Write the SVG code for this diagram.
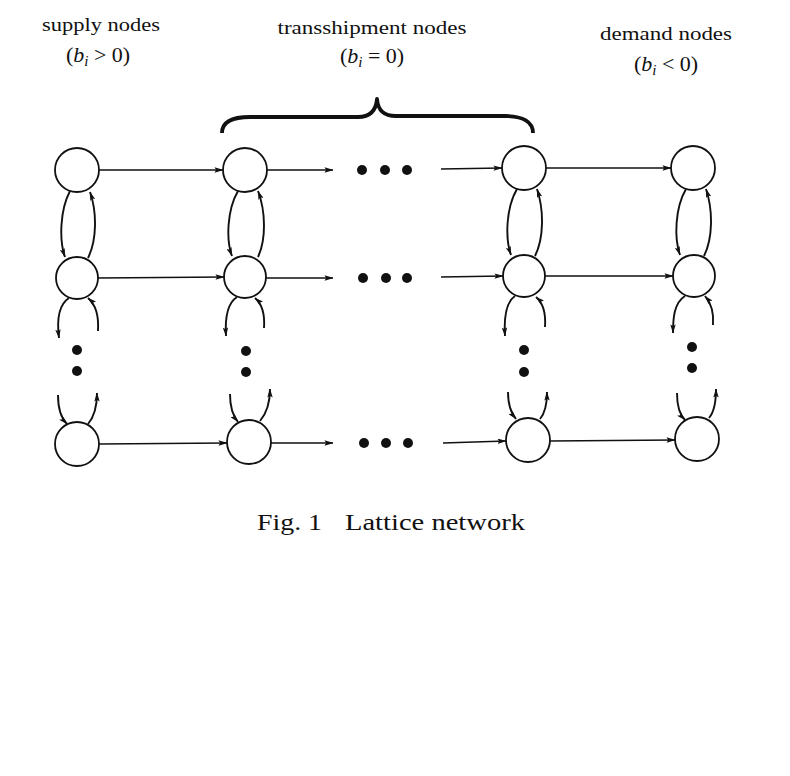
<svg xmlns="http://www.w3.org/2000/svg" width="790" height="776" viewBox="0 0 790 776">
<style>
.lbl{font-family:"Liberation Serif","DejaVu Serif",serif;font-size:19px;fill:#111}
.math{font-family:"Liberation Serif","DejaVu Serif",serif;font-size:22px;fill:#111}
.cap{font-family:"Liberation Serif","DejaVu Serif",serif;font-size:23px;fill:#111}
.it{font-style:italic}
.node circle{fill:#fff;stroke:#111;stroke-width:1.8}
.h{stroke:#111;stroke-width:1.3;fill:none;marker-end:url(#ah)}
.arc{stroke:#111;stroke-width:1.9;fill:none;marker-end:url(#ah)}
.dot{fill:#111}
</style>
<defs>
<marker id="ah" viewBox="0 0 10 6" refX="9.5" refY="3" markerWidth="9" markerHeight="5.4" markerUnits="userSpaceOnUse" orient="auto">
<path d="M0,0 L10,3 L0,6 L2,3 z" fill="#111"/>
</marker>
</defs>
<rect width="790" height="776" fill="#fff"/>

<g id="labels">
<text class="lbl" x="101" y="31" text-anchor="middle" textLength="118" lengthAdjust="spacingAndGlyphs">supply nodes</text>
<text class="math" x="98" y="62" text-anchor="middle">(<tspan class="it">b</tspan><tspan class="it" font-size="15" dy="4">i</tspan><tspan dy="-4">&#160;&gt;&#160;0)</tspan></text>
<text class="lbl" x="372" y="34" text-anchor="middle" textLength="189" lengthAdjust="spacingAndGlyphs">transshipment nodes</text>
<text class="math" x="372" y="63" text-anchor="middle">(<tspan class="it">b</tspan><tspan class="it" font-size="15" dy="4">i</tspan><tspan dy="-4">&#160;=&#160;0)</tspan></text>
<text class="lbl" x="666" y="40" text-anchor="middle" textLength="132" lengthAdjust="spacingAndGlyphs">demand nodes</text>
<text class="math" x="666" y="71" text-anchor="middle">(<tspan class="it">b</tspan><tspan class="it" font-size="15" dy="4">i</tspan><tspan dy="-4">&#160;&lt;&#160;0)</tspan></text>
<text class="cap" x="257" y="530" textLength="65" lengthAdjust="spacingAndGlyphs">Fig. 1</text>
<text class="cap" x="345" y="530" textLength="180" lengthAdjust="spacingAndGlyphs">Lattice network</text>
</g>

<g id="brace">
<path d="M222,133 C222,122 232,117 250,117 L358,117 C370,117 376,111 377,99 C378,111 384,116 396,116 L505,116 C523,116 533,122 533,133" fill="none" stroke="#111" stroke-width="3.8" stroke-linejoin="round"/>
</g>

<g id="nodes">
<g id="n11" class="node"><circle cx="77" cy="170" r="22"/></g>
<g id="n21" class="node"><circle cx="77" cy="278" r="21"/></g>
<g id="n31" class="node"><circle cx="77" cy="444" r="22"/></g>
<g id="n12" class="node"><circle cx="245" cy="170" r="22"/></g>
<g id="n22" class="node"><circle cx="245" cy="277" r="21"/></g>
<g id="n32" class="node"><circle cx="249" cy="442" r="22"/></g>
<g id="n13" class="node"><circle cx="524" cy="168" r="22"/></g>
<g id="n23" class="node"><circle cx="524" cy="276" r="21"/></g>
<g id="n33" class="node"><circle cx="528" cy="440" r="22"/></g>
<g id="n14" class="node"><circle cx="693" cy="168" r="22"/></g>
<g id="n24" class="node"><circle cx="694" cy="276" r="21"/></g>
<g id="n34" class="node"><circle cx="697" cy="439" r="22"/></g>
</g>

<g id="ellipses">
<circle class="dot" cx="362" cy="170" r="5"/><circle class="dot" cx="385" cy="170" r="5"/><circle class="dot" cx="407" cy="170" r="5"/>
<circle class="dot" cx="363" cy="278" r="5"/><circle class="dot" cx="386" cy="278" r="5"/><circle class="dot" cx="407" cy="278" r="5"/>
<circle class="dot" cx="364" cy="443" r="5"/><circle class="dot" cx="386" cy="443" r="5"/><circle class="dot" cx="408" cy="443" r="5"/>
<circle class="dot" cx="77" cy="350" r="5"/><circle class="dot" cx="77" cy="371" r="5"/>
<circle class="dot" cx="246" cy="351" r="5"/><circle class="dot" cx="246" cy="372" r="5"/>
<circle class="dot" cx="524" cy="350" r="5"/><circle class="dot" cx="524" cy="372" r="5"/>
<circle class="dot" cx="692" cy="347" r="5"/><circle class="dot" cx="692" cy="368" r="5"/>
</g>

<g id="connectors">
<path class="h" d="M99,170 L223,170"/>
<path class="h" d="M267,170 L333,170"/>
<path class="h" d="M441,169 L502,168"/>
<path class="h" d="M546,168 L671,168"/>
<path class="h" d="M98,278 L224,277"/>
<path class="h" d="M266,278 L333,278"/>
<path class="h" d="M441,277 L503,276"/>
<path class="h" d="M545,276 L673,276"/>
<path class="h" d="M99,444 L227,443"/>
<path class="h" d="M271,443 L333,443"/>
<path class="h" d="M443,443 L506,441"/>
<path class="h" d="M550,441 L675,440"/>

<path class="arc" d="M70,191 C60,210 59,240 65,257"/>
<path class="arc" d="M88,258 C97,240 97,212 90,192"/>
<path class="arc" d="M69,298 C58,305 57,322 59,338"/>
<path class="arc" d="M98,331 C99,315 95,304 88,298"/>
<path class="arc" d="M58,395 C58,408 61,418 67,424"/>
<path class="arc" d="M88,424 C94,417 97,405 97,393"/>

<path class="arc" d="M238,191 C227,210 226,240 232,256"/>
<path class="arc" d="M258,257 C266,240 266,212 258,191"/>
<path class="arc" d="M237,297 C226,304 225,320 226,336"/>
<path class="arc" d="M264,328 C265,314 262,304 255,298"/>
<path class="arc" d="M230,394 C230,407 233,416 238,422"/>
<path class="arc" d="M260,421 C266,414 270,402 270,389"/>

<path class="arc" d="M517,189 C506,208 505,238 511,255"/>
<path class="arc" d="M535,256 C544,238 544,210 537,189"/>
<path class="arc" d="M515,296 C505,303 504,320 505,336"/>
<path class="arc" d="M545,327 C546,313 543,303 536,297"/>
<path class="arc" d="M508,392 C508,405 511,413 516,419"/>
<path class="arc" d="M540,419 C546,412 547,402 547,392"/>

<path class="arc" d="M686,189 C675,208 674,238 680,255"/>
<path class="arc" d="M704,256 C713,238 713,210 706,189"/>
<path class="arc" d="M685,296 C674,303 673,318 673,333"/>
<path class="arc" d="M713,325 C714,313 711,303 705,296"/>
<path class="arc" d="M677,393 C677,406 679,414 685,420"/>
<path class="arc" d="M709,418 C715,411 716,400 716,389"/>
</g>
</svg>
